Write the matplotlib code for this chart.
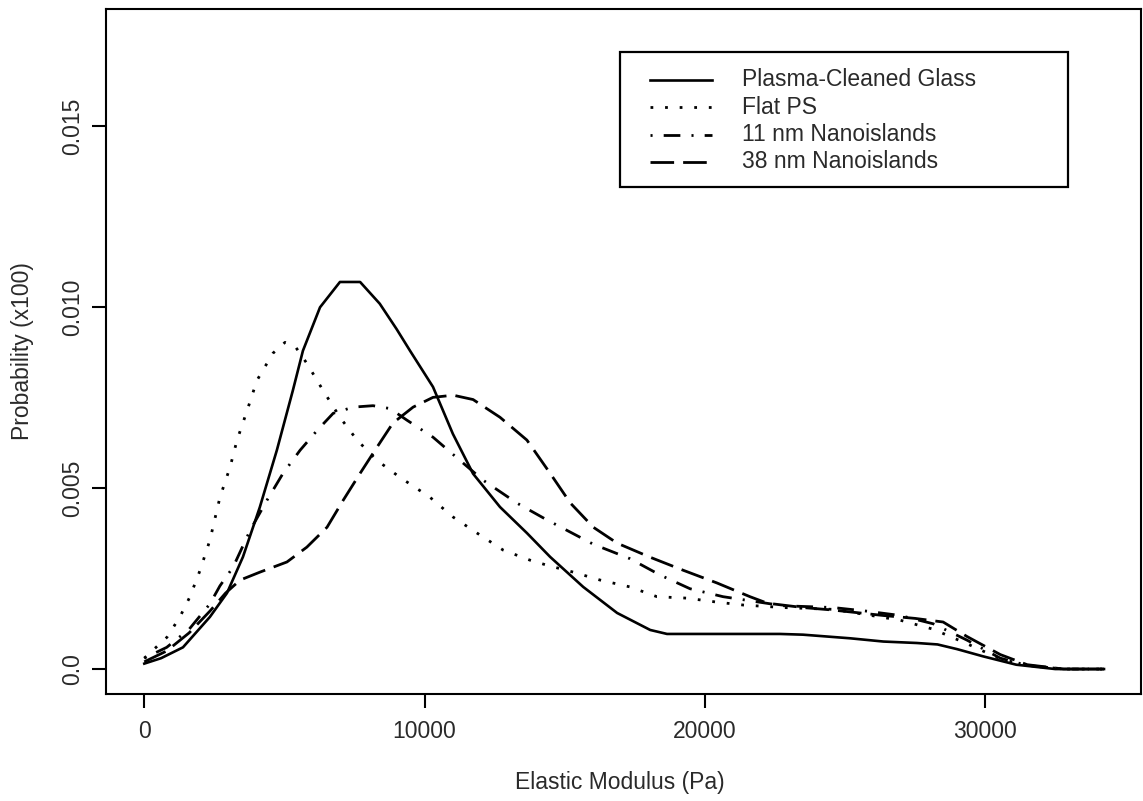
import matplotlib
matplotlib.use("Agg")
import matplotlib.pyplot as plt
from matplotlib.patches import Rectangle
from matplotlib.lines import Line2D

# ---------------- data ----------------
glass_x = [0, 600, 1380, 2340, 2950, 3520, 4120, 4730, 5300, 5660, 6270, 6980, 7700,
           8400, 9000, 9480, 10300, 11010, 11730, 12690, 13650, 14480, 15660, 16870,
           18050, 18650, 22680, 23500, 25180, 26370, 27560, 28300, 29000, 29930, 31110,
           32500, 34240]
glass_y = [0.00015, 0.0003, 0.0006, 0.00144, 0.0021, 0.0031, 0.00447, 0.00605, 0.0077,
           0.0088, 0.0100, 0.0107, 0.0107, 0.0101, 0.0094, 0.0088, 0.0078, 0.0065,
           0.0054, 0.00448, 0.00376, 0.0031, 0.00227, 0.00155, 0.00108, 0.00097,
           0.00097, 0.00095, 0.00085, 0.00076, 0.00072, 0.00068, 0.00055, 0.00035,
           0.00012, 0.0, 0.0]

ps_x = [0, 810, 1270, 1630, 1990, 2340, 2700, 3060, 3310, 3670, 4020, 4590, 5020, 5400,
        5800, 6380, 6980, 7590, 8300, 9120, 10190, 11020, 11870, 12800, 13760, 14370,
        15300, 16260, 17330, 18290, 19360, 20430, 21360, 22790, 24580, 25780, 26970,
        28150, 29350, 30540, 31500, 32800, 34240]
ps_y = [0.0003, 0.00088, 0.00144, 0.0020, 0.00273, 0.00356, 0.00475, 0.00558, 0.00633,
        0.00715, 0.00798, 0.00873, 0.00903, 0.0089, 0.00845, 0.0077, 0.00696, 0.00633,
        0.00577, 0.0053, 0.00475, 0.0042, 0.00376, 0.00329, 0.00301, 0.00287, 0.00268,
        0.00246, 0.00227, 0.0020, 0.00196, 0.00185, 0.00177, 0.0017, 0.00165, 0.0015,
        0.00135, 0.0011, 0.0007, 0.00028, 0.0001, 0.0, 0.0]

n11_x = [0, 800, 1600, 2340, 2700, 3170, 3780, 4380, 4950, 5560, 6170, 6740, 7450, 8160,
         8770, 9370, 10300, 11260, 12090, 13290, 14370, 14720, 16020, 17330, 18400,
         19470, 20650, 22790, 24580, 25780, 26970, 28150, 29350, 30540, 31500, 32800,
         34240]
n11_y = [0.0003, 0.0006, 0.0011, 0.0018, 0.0023, 0.00282, 0.00384, 0.00467, 0.00541,
         0.00605, 0.0066, 0.00707, 0.00724, 0.00728, 0.0072, 0.00688, 0.00641, 0.00577,
         0.00522, 0.00459, 0.00412, 0.00398, 0.00345, 0.00305, 0.0026, 0.00222, 0.0020,
         0.00175, 0.0017, 0.0016, 0.00148, 0.00125, 0.0008, 0.0003, 0.0001, 0.0, 0.0]

n38_x = [0, 800, 1600, 2340, 2900, 3420, 4130, 5090, 5800, 6520, 7100, 7700, 8300, 8870,
         9590, 10300, 11020, 11730, 12690, 13650, 14480, 15200, 16020, 16870, 18050,
         19230, 20430, 21610, 22230, 23500, 24580, 26370, 27500, 28500, 29350, 30540,
         31500, 32800, 34240]
n38_y = [0.0002, 0.0005, 0.0010, 0.0016, 0.0021, 0.00246, 0.00268, 0.00296, 0.00337,
         0.00392, 0.00467, 0.00541, 0.00613, 0.0068, 0.00724, 0.00751, 0.00757, 0.00745,
         0.00696, 0.00633, 0.00541, 0.00459, 0.00392, 0.00348, 0.00309, 0.00273,
         0.00238, 0.0020, 0.00182, 0.0017, 0.00163, 0.00148, 0.0014, 0.0013, 0.0009,
         0.0004, 0.00012, 0.0, 0.0]

labels = ["Plasma-Cleaned Glass", "Flat PS", "11 nm Nanoislands", "38 nm Nanoislands"]
xticks = [0, 10000, 20000, 30000]
xticklabels = ["0", "10000", "20000", "30000"]
yticks = [0.0, 0.005, 0.010, 0.015]
yticklabels = ["0.0", "0.005", "0.010", "0.015"]

# ---------------- style ----------------
plt.rcParams['font.family'] = ['Liberation Sans', 'DejaVu Sans']
plt.rcParams['lines.scale_dashes'] = False
TXT = '#2a2a2a'
FS = 16.5
W, H = 1143, 801

styles = [
    dict(linestyle='-', lw=1.9),
    dict(linestyle=(0, (2.0, 8.5)), lw=2.0, dash_capstyle='butt'),
    dict(linestyle=(0, (1.5, 8.0, 12.0, 8.0)), lw=2.0, dash_capstyle='butt'),
    dict(linestyle=(0, (17.0, 6.5)), lw=2.0, dash_capstyle='butt'),
]

fig = plt.figure(figsize=(W / 100, H / 100), dpi=100)
left, right, top, bottom = 106, 1141, 8.5, 694
ax = fig.add_axes([left / W, 1 - bottom / H, (right - left) / W, (bottom - top) / H])

series = [(glass_x, glass_y), (ps_x, ps_y), (n11_x, n11_y), (n38_x, n38_y)]
for (xs, ys), st in zip(series, styles):
    ax.plot(xs, ys, color='black', solid_joinstyle='round', **st)

ax.set_xlim(-1366, 35560)
ax.set_ylim(-0.00069, 0.01826)

ax.set_xticks(xticks)
ax.set_xticklabels(xticklabels)
ax.set_yticks(yticks)
ax.set_yticklabels(yticklabels, rotation=90, va='center')
ax.tick_params(direction='out', length=10, width=1.5, colors='black',
               labelcolor=TXT, labelsize=FS)
ax.tick_params(axis='x', pad=9)
ax.tick_params(axis='y', pad=6)
for sp in ax.spines.values():
    sp.set_linewidth(1.5)
    sp.set_color('black')

fig.text(22.5 / W, 1 - 351 / H, "Probability (x100)", rotation=90, ha='center',
         va='center', fontsize=FS, color=TXT)
fig.text(620 / W, 1 - 783 / H, "Elastic Modulus (Pa)", ha='center', va='center',
         fontsize=FS, color=TXT)

# ---------------- legend (manual) ----------------
bx0, bx1, by0, by1 = 620, 1068, 52, 187
fig.add_artist(Rectangle((bx0 / W, 1 - by1 / H), (bx1 - bx0) / W, (by1 - by0) / H,
                         transform=fig.transFigure, fill=False, lw=1.6,
                         edgecolor='black'))
for i, (lab, st) in enumerate(zip(labels, styles)):
    yy = 79.5 + 27.5 * i
    fig.add_artist(Line2D([650 / W, 712 / W], [1 - yy / H, 1 - yy / H],
                          transform=fig.transFigure, color='black', **st))
    fig.text(742 / W, 1 - yy / H, lab, ha='left', va='center', fontsize=FS, color=TXT)

fig.savefig("out.png", dpi=100)
